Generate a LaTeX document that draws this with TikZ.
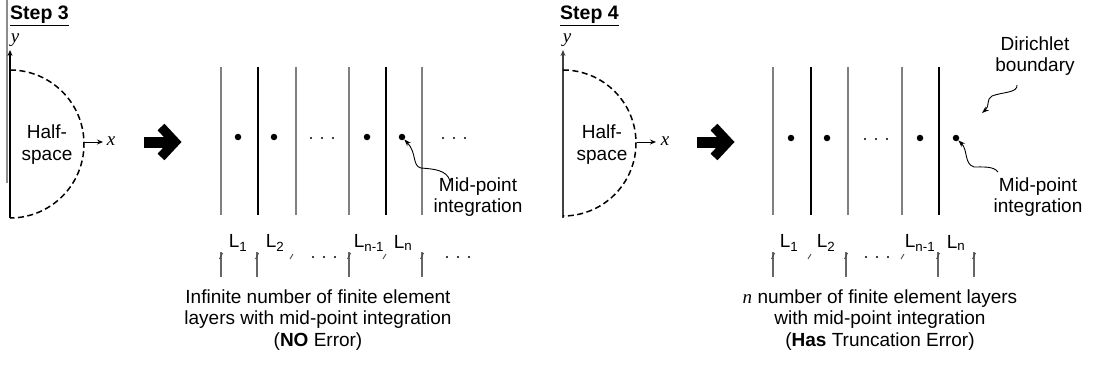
\documentclass[tikz,border=0pt]{standalone}
\usepackage{fontspec}
\setmainfont{Liberation Sans}
\newfontfamily\tnr{Liberation Serif}
\usetikzlibrary{arrows.meta}
\tikzset{
  lay/.style={line width=1.2pt, draw=black},
  glay/.style={line width=1.2pt, draw=black!50},
  mdot/.style={circle, fill=black, inner sep=0pt, minimum size=6.5pt},
  sdot/.style={circle, fill=black, inner sep=0pt, minimum size=2.4pt},
  txt/.style={inner sep=0pt, font=\fontsize{19}{22}\selectfont},
  captxt/.style={inner sep=0pt, align=center, font=\fontsize{19}{21.5}\selectfont},
  ital/.style={inner sep=0pt, font=\fontsize{19}{22}\selectfont\tnr\itshape},
  tk/.style={line width=1.1pt, draw=black!60},
  sl/.style={line width=0.9pt, draw=black!70},
  harc/.style={line width=1.5pt, dash pattern=on 6pt off 3.5pt},
  axis/.style={line width=1.2pt, -{Stealth[length=6pt,width=5pt]}},
  callout/.style={line width=0.9pt, -{Stealth[length=7pt,width=5pt]}},
  bigshaft/.style={line width=11pt},
  bighead/.style={line width=9.5pt, miter limit=10},
}
\begin{document}
\begin{tikzpicture}[x=1pt,y=-1pt]
\useasboundingbox (0,0) rectangle (1093,369);

% ================= STEP 3 =================
\node[txt, anchor=west, font=\fontsize{19.5}{22}\selectfont\bfseries] (s3) at (10,16) {\underline{Step 3}};
\draw[line width=1.2pt, black!45] (7,0) -- (7,183);
\coordinate (ya3) at (10,218);
\coordinate (yt3) at (10,50);
\draw[axis] (ya3) -- (yt3);
\node[ital] (ylab3) at (15,40) {y};
\draw[harc] (10,70) arc[start angle=-90, end angle=90, radius=74];
\node[txt, align=center] (hs3) at (47,145) {Half-\\space};
\coordinate (xa3) at (84,142);
\coordinate (xt3) at (103,142);
\draw[axis, line width=0.9pt] (xa3) -- (xt3);
\node[ital] (xlab3) at (111,141) {x};
\draw[bigshaft] (144,142) -- (170,142);
\draw[bighead] (161,127) -- (175,142) -- (161,157);

% layer lines
\draw[glay] (221,67) -- (221,215);
\draw[lay]  (258,67) -- (258,215);
\draw[glay] (296,67) -- (296,215);
\draw[glay] (349,67) -- (349,215);
\draw[lay]  (386,67) -- (386,215);
\draw[glay] (422,67) -- (422,215);
% mid dots
\node[mdot] (d31) at (238,137) {};
\node[mdot] (d32) at (274,137) {};
\node[mdot] (d33) at (367,137) {};
\node[mdot] (d34) at (402,137) {};
\node[sdot] (e31) at (311,138) {};
\node[sdot] (e32) at (322,138) {};
\node[sdot] (e33) at (333,138) {};
\node[sdot] (e34) at (443,138) {};
\node[sdot] (e35) at (454,138) {};
\node[sdot] (e36) at (465,138) {};
% mid-point label
\node[captxt] (mp3) at (478,197) {Mid-point\\integration};
\coordinate (mp3s) at (450,181);
\draw[callout] (mp3s) .. controls (447,170) and (434,169) .. (421,168)
   .. controls (412,166) and (417,153) .. (d34);
% L labels
\node[txt] (l31) at (238,243) {L\textsubscript{1}};
\node[txt] (l32) at (275,243) {L\textsubscript{2}};
\node[txt] (l33) at (369,243) {L\textsubscript{n-1}};
\node[txt] (l34) at (403,243) {L\textsubscript{n}};
% dimension ticks
\foreach \xx/\nm in {221/t31,257/t32,349/t33,422/t34}{
  \coordinate (\nm a) at (\xx,252);
  \coordinate (\nm b) at (\xx,277);
  \draw[tk] (\nm a) -- (\nm b);
  \draw[sl] (\xx-1.5,259) -- (\xx+1.5,253);
}
\draw[sl] (290,259) -- (293,254);
\draw[sl] (383,259) -- (386,254);
\node[sdot] (f31) at (313,257) {};
\node[sdot] (f32) at (324,257) {};
\node[sdot] (f33) at (335,257) {};
\node[sdot] (f34) at (447,257) {};
\node[sdot] (f35) at (458,257) {};
\node[sdot] (f36) at (469,257) {};
% caption
\node[captxt] (c3) at (318,320) {Infinite number of finite element\\layers with mid-point integration\\(\textbf{NO} Error)};

% ================= STEP 4 =================
\node[txt, anchor=west, font=\fontsize{19.5}{22}\selectfont\bfseries] (s4) at (560,16) {\underline{Step 4}};
\coordinate (ya4) at (563,218);
\coordinate (yt4) at (563,50);
\draw[axis, draw=black!75] (ya4) -- (yt4);
\node[ital] (ylab4) at (567,40) {y};
\draw[harc] (563,70) arc[start angle=-90, end angle=90, radius=73];
\node[txt, align=center] (hs4) at (602,145) {Half-\\space};
\coordinate (xa4) at (637,142);
\coordinate (xt4) at (656,142);
\draw[axis, line width=0.9pt] (xa4) -- (xt4);
\node[ital] (xlab4) at (665,141) {x};
\draw[bigshaft] (697,142) -- (723,142);
\draw[bighead] (714,127) -- (728,142) -- (714,157);

\draw[glay] (773,67) -- (773,215);
\draw[lay]  (811,67) -- (811,215);
\draw[glay] (848,67) -- (848,215);
\draw[glay] (902,67) -- (902,215);
\draw[lay]  (939,67) -- (939,215);
\node[mdot] (d41) at (791,138) {};
\node[mdot] (d42) at (827,138) {};
\node[mdot] (d43) at (920,138) {};
\node[mdot] (d44) at (956,138) {};
\node[sdot] (e41) at (865,139) {};
\node[sdot] (e42) at (876,139) {};
\node[sdot] (e43) at (887,139) {};
% Dirichlet
\node[captxt] (db) at (1035,56) {Dirichlet\\boundary};
\coordinate (dbs) at (1017,85);
\coordinate (dbt) at (982,113);
\draw[callout] (dbs) .. controls (1018,93) and (1002,92) .. (992,96)
   .. controls (986,99) and (990,106) .. (dbt);
% Mid-point
\node[captxt] (mp4) at (1038,197) {Mid-point\\integration};
\coordinate (mp4s) at (998,172);
\draw[callout] (mp4s) .. controls (994,166) and (982,167) .. (974,167)
   .. controls (964,164) and (968,150) .. (d44);
% L labels
\node[txt] (l41) at (789,243) {L\textsubscript{1}};
\node[txt] (l42) at (826,243) {L\textsubscript{2}};
\node[txt] (l43) at (920,243) {L\textsubscript{n-1}};
\node[txt] (l44) at (956,243) {L\textsubscript{n}};
\foreach \xx/\nm in {773/t41,846/t42,938/t43,974/t44}{
  \coordinate (\nm a) at (\xx,252);
  \coordinate (\nm b) at (\xx,277);
  \draw[tk] (\nm a) -- (\nm b);
  \draw[sl] (\xx-1.5,259) -- (\xx+1.5,253);
}
\draw[sl] (808,259) -- (811,254);
\draw[sl] (901,259) -- (904,254);
\node[sdot] (f41) at (866,257) {};
\node[sdot] (f42) at (877,257) {};
\node[sdot] (f43) at (888,257) {};
\node[captxt] (c4) at (880,320) {{\tnr\itshape n} number of finite element layers\\with mid-point integration\\(\textbf{Has} Truncation Error)};
\end{tikzpicture}
\end{document}
